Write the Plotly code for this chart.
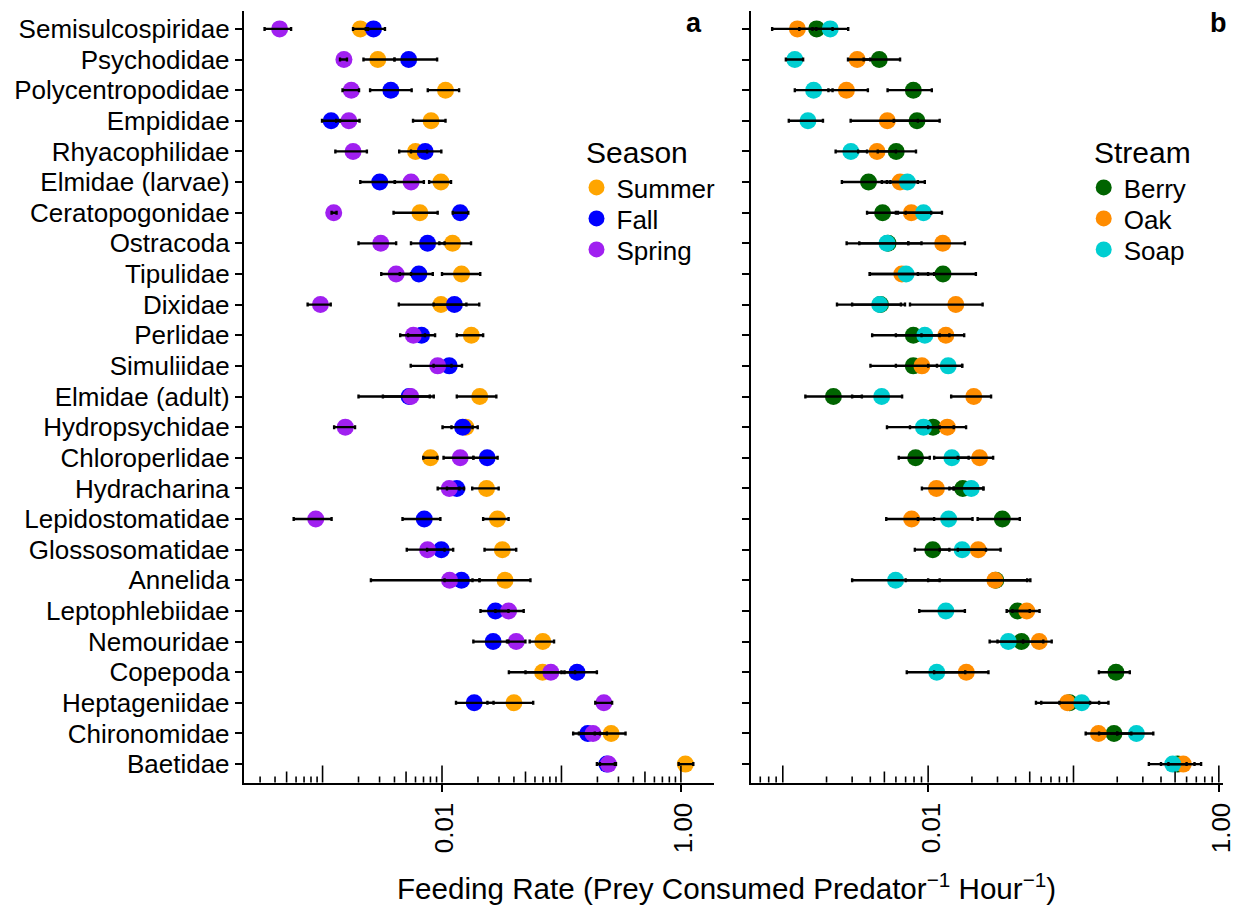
import math
import plotly.graph_objects as go

# figure size inside the page; screen offsets measured from earlier renders
W, H = 1239, 901
OX, OY = 1.0, 8.0

categories = ["Semisulcospiridae", "Psychodidae", "Polycentropodidae", "Empididae",
              "Rhyacophilidae", "Elmidae (larvae)", "Ceratopogonidae", "Ostracoda",
              "Tipulidae", "Dixidae", "Perlidae", "Simuliidae", "Elmidae (adult)",
              "Hydropsychidae", "Chloroperlidae", "Hydracharina", "Lepidostomatidae",
              "Glossosomatidae", "Annelida", "Leptophlebiidae", "Nemouridae", "Copepoda",
              "Heptageniidae", "Chironomidae", "Baetidae"]

# ---- Panel a : Season ----
summer = [0.00207, 0.0029, 0.0107, 0.0081, 0.0060, 0.0098, 0.00653, 0.01225, 0.01456, 0.0098,
          0.0176, None, 0.0207, 0.0158, 0.0080, 0.0236, 0.0291, 0.032, 0.0337, None,
          0.0698, 0.0695, 0.040, 0.2606, 1.09]
summer_lo = [0.0018, 0.0022, 0.0076, 0.00572, 0.00438, 0.0078, 0.00393, 0.0095, 0.0100, 0.00435,
             0.0133, None, 0.0133, 0.012, 0.00697, 0.0179, 0.0221, 0.0227, 0.0206, None,
             0.0542, 0.0363, 0.024, 0.19, 0.957]
summer_hi = [0.0024, 0.0040, 0.0139, 0.0107, 0.0075, 0.0119, 0.0092, 0.0175, 0.0209, 0.016,
             0.0221, None, 0.0285, 0.0199, 0.00915, 0.0298, 0.0361, 0.0418, 0.055, None,
             0.0867, 0.106, 0.058, 0.344, 1.27]

fall = [0.00267, 0.00526, 0.00373, 0.00118, 0.00723, 0.00301, 0.0142, 0.00757, 0.0064, 0.0127,
        0.00674, 0.0115, 0.0053, 0.0149, 0.0239, 0.0133, 0.0071, 0.00987, 0.01455, 0.028,
        0.0268, 0.135, 0.0186, 0.166, 0.24]
fall_lo = [0.0023, 0.0040, 0.0025, 0.00099, 0.0055, 0.00207, 0.0123, 0.0055, 0.00443, 0.0085,
           0.0052, 0.0085, 0.0032, 0.0101, 0.0183, 0.0110, 0.00467, 0.0075, 0.0105, 0.021,
           0.0183, 0.10, 0.0131, 0.1253, 0.198]
fall_hi = [0.00333, 0.0091, 0.00557, 0.0014, 0.00987, 0.00403, 0.0166, 0.0105, 0.00837, 0.0205,
           0.00875, 0.0147, 0.00853, 0.018, 0.0292, 0.0153, 0.00969, 0.0124, 0.0206, 0.036,
           0.036, 0.198, 0.027, 0.21, 0.28]

spring = [0.000437, 0.00151, 0.00174, 0.00166, 0.0018, 0.00551, 0.00124, 0.00307, 0.00413, 0.00096,
          0.00575, 0.0092, 0.00547, 0.00155, 0.0142, 0.0115, 0.000877, 0.00757, 0.01157, 0.0361,
          0.0418, 0.0815, 0.2265, 0.1837, 0.247]
spring_lo = [0.000327, 0.0014, 0.00147, 0.0013, 0.00128, 0.00403, 0.00119, 0.0020, 0.0031, 0.00075,
             0.00447, 0.00547, 0.0020, 0.00125, 0.0103, 0.0092, 0.000573, 0.00507, 0.00254, 0.028,
             0.035, 0.05, 0.192, 0.14, 0.21]
spring_hi = [0.000545, 0.0016, 0.00202, 0.00204, 0.00235, 0.00705, 0.00131, 0.00413, 0.0055, 0.00117,
             0.0072, 0.0120, 0.0079, 0.00187, 0.0183, 0.014, 0.00119, 0.0105, 0.018, 0.0483,
             0.0499, 0.13, 0.2655, 0.24, 0.286]

# ---- Panel b : Stream ----
berry = [0.00171, 0.00461, 0.00791, 0.00838, 0.00603, 0.00389, 0.00486, 0.0053, 0.01265, 0.0047,
         0.00791, 0.0079, 0.00223, 0.0108, 0.0082, 0.0173, 0.0324, 0.01076, 0.0292, 0.0412,
         0.0439, 0.196, 0.094, 0.19, 0.52]
berry_lo = [0.0013, 0.0036, 0.00526, 0.0058, 0.0045, 0.00255, 0.0038, 0.00336, 0.0085, 0.0030,
            0.00412, 0.00401, 0.00143, 0.0075, 0.00628, 0.0140, 0.0219, 0.0081, 0.0100, 0.0347,
            0.030, 0.1496, 0.06, 0.15, 0.40]
berry_hi = [0.0022, 0.00641, 0.0106, 0.012, 0.00825, 0.0055, 0.0062, 0.0090, 0.0213, 0.00693,
            0.0120, 0.0115, 0.0035, 0.015, 0.01026, 0.024, 0.0427, 0.0140, 0.0505, 0.050,
            0.062, 0.244, 0.15, 0.25, 0.68]

oak = [0.00126, 0.00325, 0.00274, 0.00524, 0.00445, 0.00641, 0.00766, 0.0126, 0.00659, 0.0155,
       0.01324, 0.00906, 0.0206, 0.01355, 0.0226, 0.0114, 0.0077, 0.0221, 0.0288, 0.0477,
       0.0581, 0.0183, 0.091, 0.1486, 0.569]
oak_lo = [0.000845, 0.00281, 0.00206, 0.00293, 0.0033, 0.0048, 0.0060, 0.0073, 0.00397, 0.0075,
          0.0090, 0.0060, 0.0144, 0.0100, 0.016, 0.00906, 0.00515, 0.016, 0.0070, 0.0380,
          0.045, 0.0110, 0.0552, 0.1213, 0.45]
oak_hi = [0.0017, 0.0040, 0.00385, 0.0085, 0.0060, 0.0085, 0.0105, 0.0179, 0.0100, 0.0237,
          0.0177, 0.01714, 0.0271, 0.01824, 0.028, 0.0150, 0.0110, 0.0315, 0.048, 0.0584,
          0.0708, 0.026, 0.13, 0.20, 0.755]

soap = [0.00212, 0.00121, 0.00163, 0.00149, 0.00294, 0.0072, 0.00929, 0.00521, 0.00705, 0.00464,
        0.00949, 0.01374, 0.00479, 0.00929, 0.01456, 0.0198, 0.01384, 0.01714, 0.00597, 0.01324,
        0.0356, 0.01146, 0.114, 0.271, 0.482]
soap_lo = [0.0016, 0.00105, 0.00121, 0.0011, 0.00231, 0.0052, 0.0070, 0.00275, 0.00397, 0.00236,
           0.0060, 0.0100, 0.0030, 0.00521, 0.0110, 0.0150, 0.0085, 0.0120, 0.0030, 0.00869,
           0.0265, 0.00713, 0.08, 0.20, 0.33]
soap_hi = [0.00282, 0.00138, 0.0022, 0.00189, 0.0038, 0.00949, 0.01245, 0.0073, 0.0110, 0.0065,
           0.0140, 0.01714, 0.00662, 0.0120, 0.0190, 0.024, 0.0202, 0.0250, 0.0120, 0.0179,
           0.045, 0.018, 0.174, 0.354, 0.60]

season_series = [("Summer", "#FFA500", summer, summer_lo, summer_hi),
                 ("Fall", "#0000FF", fall, fall_lo, fall_hi),
                 ("Spring", "#A020F0", spring, spring_lo, spring_hi)]
stream_series = [("Berry", "#006400", berry, berry_lo, berry_hi),
                 ("Oak", "#FF8C00", oak, oak_lo, oak_hi),
                 ("Soap", "#00CED1", soap, soap_lo, soap_hi)]

FONT = "Liberation Sans, Arial, Helvetica, sans-serif"
ypos = list(range(len(categories)))


def px2x(p):
    return (p - OX) / W


def px2y(p):
    return 1 - (p - OY) / H


fig = go.Figure()

# one legend per entry so each can be placed exactly
legend_layout = {}
item_rows = [188, 219, 250]


def add_panel(series, xa, ya, legend_ids, sym_x):
    for (name, color, vals, lo, hi), lid, row in zip(series, legend_ids, item_rows):
        fig.add_trace(go.Scatter(
            x=vals, y=ypos, mode="markers", name=name,
            marker=dict(color=color, size=17, line=dict(width=0)),
            xaxis=xa, yaxis=ya, legend=lid, hoverinfo="skip"))
        legend_layout[lid] = dict(
            x=px2x(sym_x - 21), y=px2y(row - 24), xanchor="left", yanchor="top",
            font=dict(family=FONT, size=26, color="black"), bgcolor="rgba(0,0,0,0)",
            itemclick=False, itemdoubleclick=False)
    # error bars on top of points
    for name, color, vals, lo, hi in series:
        plus = [(h - v) if v is not None else 0 for v, h in zip(vals, hi)]
        minus = [(v - l) if v is not None else 0 for v, l in zip(vals, lo)]
        fig.add_trace(go.Scatter(
            x=vals, y=ypos, mode="markers", showlegend=False,
            marker=dict(color=color, size=2, opacity=0),
            error_x=dict(type="data", symmetric=False, array=plus, arrayminus=minus,
                         color="black", thickness=2.4, width=2),
            xaxis=xa, yaxis=ya, hoverinfo="skip"))


add_panel(season_series, "x", "y", ["legend", "legend2", "legend3"], 597)
add_panel(stream_series, "x2", "y2", ["legend4", "legend5", "legend6"], 1110)

xa_dom = [px2x(239.3), px2x(715)]
xb_dom = [px2x(752.3), px2x(1229.5)]
y_dom = [px2y(782.5), px2y(10.5)]
xa_rng = [-3.661, 0.2765]
xb_rng = [-3.220, 0.026]

xcommon = dict(type="log", showline=True, linecolor="black", linewidth=1.6,
               tickvals=[0.01, 1], ticktext=["0.01", "1.00"], tickangle=-90,
               ticks="outside", ticklen=8, tickwidth=1.6, tickcolor="black",
               showgrid=False, zeroline=False, ticklabeloverflow="allow",
               ticklabelshift=3,
               tickfont=dict(family=FONT, size=26, color="black"))
ycommon = dict(range=[24.6, -0.6], tickvals=ypos, showline=True, linecolor="black",
               linewidth=1.6, ticks="outside", ticklen=7, tickwidth=1.6, tickcolor="black",
               showgrid=False, zeroline=False,
               tickfont=dict(family=FONT, size=26, color="black"))

fig.update_layout(
    width=W, height=H, margin=dict(l=0, r=0, t=0, b=0),
    paper_bgcolor="white", plot_bgcolor="white",
    font=dict(family=FONT, color="black"),
    xaxis=dict(domain=xa_dom, range=xa_rng, anchor="y", **xcommon),
    xaxis2=dict(domain=xb_dom, range=xb_rng, anchor="y2", **xcommon),
    yaxis=dict(domain=y_dom, anchor="x", ticktext=categories, **ycommon),
    yaxis2=dict(domain=y_dom, anchor="x2", ticktext=categories, showticklabels=False, **ycommon),
    showlegend=True,
    **legend_layout,
)

# log tick marks (annotation_logticks style) along the bottom of each panel
shapes = []
for xref, yref, rng in [("x", "y domain", xa_rng), ("x2", "y2 domain", xb_rng)]:
    for d in range(-4, 1):
        for m in range(1, 10):
            v = m * 10 ** d
            lv = math.log10(v)
            if rng[0] <= lv <= rng[1]:
                L = 17 if m == 1 else (11 if m == 5 else 6)
                shapes.append(dict(type="line", xref=xref, yref=yref, ysizemode="pixel",
                                   yanchor=0, x0=v, x1=v, y0=0, y1=L,
                                   line=dict(color="black", width=1.6)))
fig.update_layout(shapes=shapes)


def ann(text, x, y, size, xanchor="center"):
    return dict(text=text, x=px2x(x), y=px2y(y), xref="paper", yref="paper",
                xanchor=xanchor, yanchor="middle", showarrow=False,
                font=dict(family=FONT, size=size, color="black"))


annotations = [
    ann("<b>a</b>", 695, 23, 27),
    ann("<b>b</b>", 1225, 23, 27),
    ann("Season", 584, 153, 30, xanchor="left"),
    ann("Stream", 1097, 153, 30, xanchor="left"),
    ann("Feeding Rate (Prey Consumed Predator<sup>\u22121</sup> Hour<sup>\u22121</sup>)",
        727.5, 886, 29.6),
]
fig.update_layout(annotations=annotations)

fig.write_html("out.html")
